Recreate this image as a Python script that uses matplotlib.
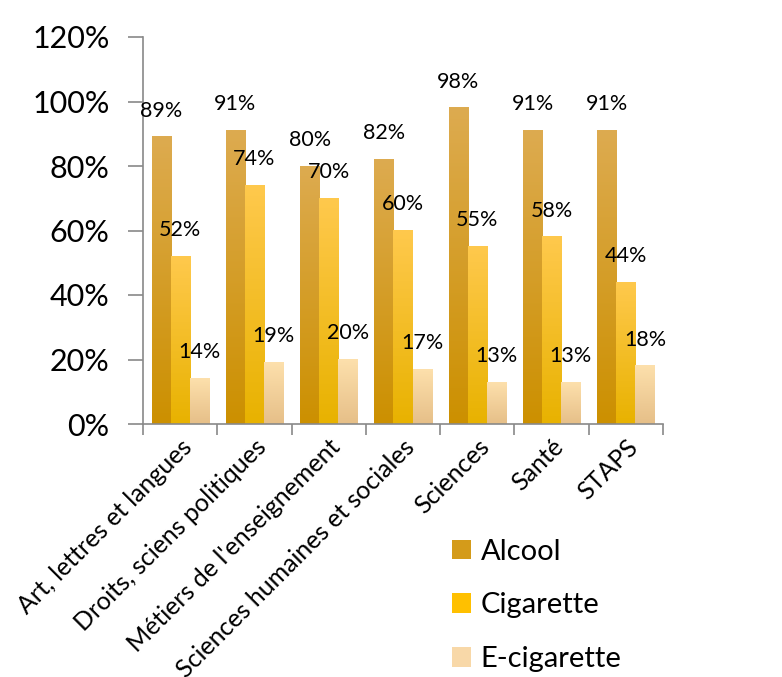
import numpy as np
import matplotlib
matplotlib.use("Agg")
import matplotlib.pyplot as plt
from matplotlib.colors import LinearSegmentedColormap
from matplotlib.patches import Patch

plt.rcParams['font.family'] = ['Lato', 'DejaVu Sans']

categories = ["Art, lettres et langues", "Droits, sciens politiques",
              "Métiers de l'enseignement", "Sciences humaines et sociales",
              "Sciences", "Santé", "STAPS"]
series_names = ["Alcool", "Cigarette", "E-cigarette"]
alcool = [89, 91, 80, 82, 98, 91, 91]
cigarette = [52, 74, 70, 60, 55, 58, 44]
ecig = [14, 19, 20, 17, 13, 13, 18]
yticks = [0, 20, 40, 60, 80, 100, 120]

# gradient (top, bottom) colours per series
grads = [("#DDAB50", "#CC9000"), ("#FFC94D", "#E8B200"), ("#FDE0AC", "#E6BF88")]
legend_cols = ["#D49B1A", "#FFC000", "#F8D8A8"]

fig = plt.figure(figsize=(7.82, 6.77), dpi=100)
ax = fig.add_axes([143/782, 1-424/677, 520/782, 387/677])

n = len(categories)
x = np.arange(n)
w = 0.256
data = [alcool, cigarette, ecig]
for i, vals in enumerate(data):
    bars = ax.bar(x + (i - 1) * w, vals, width=w, color="none", edgecolor="none", zorder=2)
    cmap = LinearSegmentedColormap.from_list("g%d" % i, [grads[i][1], grads[i][0]])
    grad = np.linspace(0, 1, 256).reshape(-1, 1)
    for b, v in zip(bars, vals):
        x0 = b.get_x(); x1 = x0 + b.get_width()
        ax.imshow(grad, extent=[x0, x1, 0, b.get_height()], origin="lower",
                  cmap=cmap, aspect="auto", zorder=2)
        ax.annotate(f"{v}%", (x0 + b.get_width()/2, b.get_height()),
                    xytext=(0, 19), textcoords="offset points",
                    ha="center", va="center", fontsize=15.5, color="black", zorder=3)

ax.set_xlim(-0.5, n - 0.5)
ax.set_ylim(0, 120)
ax.set_yticks(yticks)
ax.set_yticklabels([f"{t}%" for t in yticks], fontsize=22)
ax.set_xticks(np.arange(n + 1) - 0.5, minor=False)
ax.set_xticklabels([])
ax.set_xticks(x, minor=True)
ax.set_xticklabels(categories, minor=True, rotation=45, ha="right",
                   rotation_mode="anchor", fontsize=18)
ax.tick_params(axis="x", which="minor", length=0, pad=8)
ax.tick_params(axis="x", which="major", length=8, color="#898989", width=1.2)
ax.tick_params(axis="y", length=11, color="#898989", width=1.2, pad=13)
for s in ["top", "right"]:
    ax.spines[s].set_visible(False)
for s in ["left", "bottom"]:
    ax.spines[s].set_color("#898989")
    ax.spines[s].set_linewidth(1.2)

handles = [Patch(facecolor=c, edgecolor="none") for c in legend_cols]
fig.legend(handles, series_names, loc="upper left", bbox_to_anchor=(440/782, 1-527/677),
           frameon=False, fontsize=21, handlelength=0.65, handleheight=0.65,
           handletextpad=0.35, labelspacing=0.95, borderaxespad=0)

fig.savefig("out.png", dpi=100)
